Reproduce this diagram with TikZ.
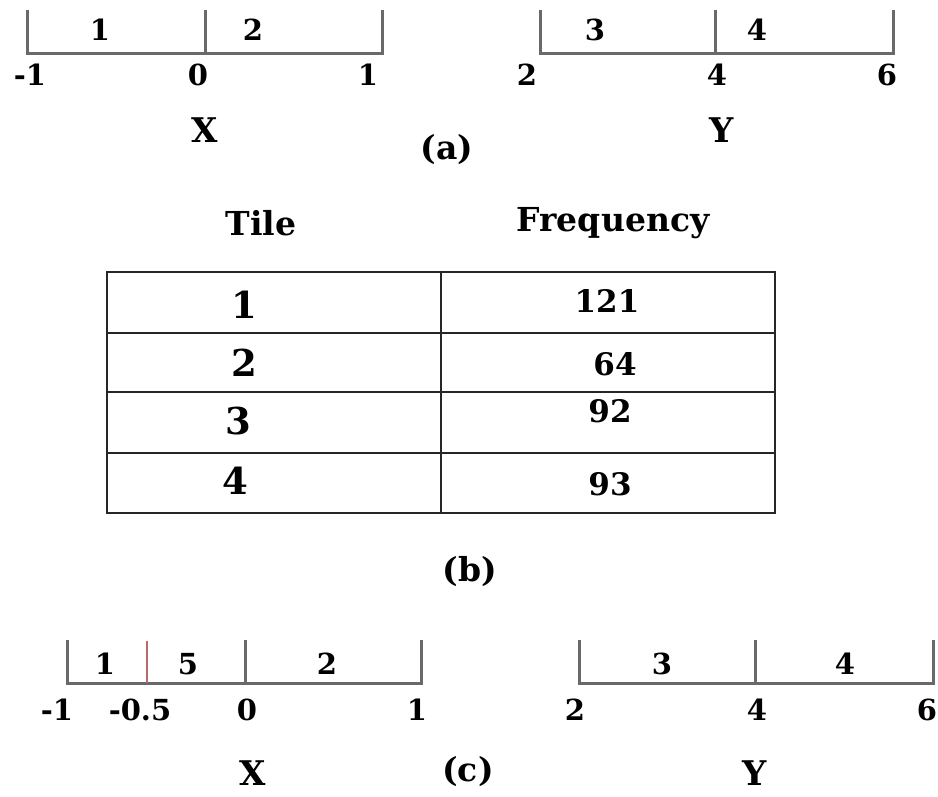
\documentclass[tikz,border=0pt]{standalone}
\usepackage{fontspec}
\setmainfont{DejaVu Serif}
\definecolor{tickgray}{RGB}{105,105,105}
\definecolor{cutred}{RGB}{185,105,105}
\tikzset{
  axisline/.style={draw=tickgray, line width=3pt},
  cutline/.style={draw=cutred, line width=2.6pt},
  tablerule/.style={draw=black!85, line width=2.4pt},
  lab/.style={inner sep=0pt, font=\bfseries\fontsize{29}{32}\selectfont},
  varlab/.style={inner sep=0pt, font=\bfseries\fontsize{34}{38}\selectfont},
  caplab/.style={inner sep=0pt, font=\bfseries\fontsize{33}{36}\selectfont},
  headlab/.style={inner sep=0pt, font=\bfseries\fontsize{33}{36}\selectfont},
  rowlab/.style={inner sep=0pt, font=\bfseries\fontsize{37}{40}\selectfont},
  vallab/.style={inner sep=0pt, font=\bfseries\fontsize{31}{34}\selectfont}
}
\begin{document}
\begin{tikzpicture}[x=1pt, y=-1pt]
    \useasboundingbox (0,0) rectangle (938,796);

    % Định nghĩa các điểm
    \coordinate (XaL) at (27,53);
    \coordinate (XaM) at (205,53);
    \coordinate (XaR) at (382,53);
    \coordinate (YaL) at (540,53);
    \coordinate (YaM) at (715,53);
    \coordinate (YaR) at (893,53);
    \coordinate (XcL) at (67,683);
    \coordinate (XcC) at (147,683);
    \coordinate (XcM) at (245,683);
    \coordinate (XcR) at (421,683);
    \coordinate (YcL) at (579,683);
    \coordinate (YcM) at (755,683);
    \coordinate (YcR) at (933,683);

    % 1. Hình (a): hai trục X và Y
    \draw[axisline] (XaL) ++(0,-43) -- (XaL) -- (XaR) -- ++(0,-43);
    \draw[axisline] (XaM) -- ++(0,-43);
    \draw[axisline] (YaL) ++(0,-43) -- (YaL) -- (YaR) -- ++(0,-43);
    \draw[axisline] (YaM) -- ++(0,-43);

    \node[lab] (ta1) at (100,30) {1};
    \node[lab] (ta2) at (253,30) {2};
    \node[lab] (ta3) at (595,30) {3};
    \node[lab] (ta4) at (757,30) {4};
    \node[lab] (xa1) at (30,75) {-1};
    \node[lab] (xa2) at (198,75) {0};
    \node[lab] (xa3) at (368,75) {1};
    \node[lab] (ya1) at (527,75) {2};
    \node[lab] (ya2) at (717,75) {4};
    \node[lab] (ya3) at (887,75) {6};
    \node[varlab] (Xa) at (205,130) {X};
    \node[varlab] (Ya) at (722,130) {Y};
    \node[caplab] (capa) at (447,150) {(a)};

    % 2. Hình (b): bảng tần suất
    \node[headlab] (htile) at (261,223) {Tile};
    \node[headlab] (hfreq) at (613,223) {Frequency};
    \draw[tablerule] (107,272) rectangle (775,513);
    \draw[tablerule] (107,333) -- (775,333);
    \draw[tablerule] (107,392) -- (775,392);
    \draw[tablerule] (107,453) -- (775,453);
    \draw[tablerule] (441,272) -- (441,513);

    \node[rowlab] (r1) at (244,305) {1};
    \node[rowlab] (r2) at (244,363) {2};
    \node[rowlab] (r3) at (238,421) {3};
    \node[rowlab] (r4) at (235,481) {4};
    \node[vallab] (f1) at (607,301) {121};
    \node[vallab] (f2) at (615,364) {64};
    \node[vallab] (f3) at (610,411) {92};
    \node[vallab] (f4) at (610,484) {93};
    \node[caplab] (capb) at (470,572) {(b)};

    % 3. Hình (c): trục X được chia thêm tại -0.5
    \draw[axisline] (XcL) ++(0,-43) -- (XcL) -- (XcR) -- ++(0,-43);
    \draw[axisline] (XcM) -- ++(0,-43);
    \draw[cutline] (XcC) -- ++(0,-42);
    \draw[axisline] (YcL) ++(0,-43) -- (YcL) -- (YcR) -- ++(0,-43);
    \draw[axisline] (YcM) -- ++(0,-43);

    \node[lab] (tc1) at (105,664) {1};
    \node[lab] (tc5) at (188,664) {5};
    \node[lab] (tc2) at (327,664) {2};
    \node[lab] (tc3) at (662,664) {3};
    \node[lab] (tc4) at (845,664) {4};
    \node[lab] (xc1) at (57,710) {-1};
    \node[lab] (xc2) at (140,710) {-0.5};
    \node[lab] (xc3) at (247,710) {0};
    \node[lab] (xc4) at (417,710) {1};
    \node[lab] (yc1) at (575,710) {2};
    \node[lab] (yc2) at (757,710) {4};
    \node[lab] (yc3) at (927,710) {6};
    \node[varlab] (Xc) at (253,773) {X};
    \node[varlab] (Yc) at (755,773) {Y};
    \node[caplab] (capc) at (468,772) {(c)};
\end{tikzpicture}
\end{document}
